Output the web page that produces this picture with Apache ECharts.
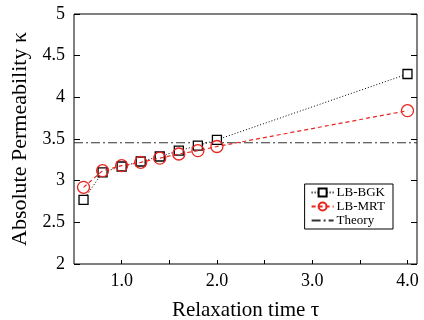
<!DOCTYPE html>
<html>
<head>
<meta charset="utf-8">
<script src="https://cdn.jsdelivr.net/npm/echarts@6/dist/echarts.min.js"></script>
<style>
  html, body { margin: 0; padding: 0; background: #fff; }
  #chart { width: 424px; height: 320px; }
</style>
</head>
<body>
<div id="chart"></div>
<script>
// relaxation time values
const tau = [0.6, 0.8, 1.0, 1.2, 1.4, 1.6, 1.8, 2.0, 4.0];
const bgk = [2.77, 3.10, 3.17, 3.23, 3.29, 3.36, 3.42, 3.49, 4.28];
const mrt = [2.92, 3.12, 3.18, 3.22, 3.27, 3.32, 3.36, 3.41, 3.84];
const theory = 3.455;
const xRange = [0.5, 4.1];
const xLabels = [1, 2, 3, 4];
const xTicks = [1, 1.5, 2, 2.5, 3, 3.5, 4];

const chart = echarts.init(document.getElementById('chart'));
const serif = 'Liberation Serif, Times New Roman, serif';

const option = {
    animation: false,
    backgroundColor: '#fff',
    textStyle: { fontFamily: serif },
    grid: {
        left: 74, right: 7, top: 14, bottom: 56,
        outerBoundsMode: 'none',
        show: true, borderColor: '#000', borderWidth: 1
    },
    legend: {
        right: 31, top: 184,
        orient: 'vertical',
        itemWidth: 22, itemHeight: 10, itemGap: 1,
        padding: [2, 8, 2, 6],
        borderColor: '#000', borderWidth: 1,
        textStyle: { fontFamily: serif, fontSize: 13, color: '#000', padding: [0, 0, 0, -2] },
        data: ['LB-BGK', 'LB-MRT', { name: 'Theory', itemStyle: { opacity: 0 } }]
    },
    xAxis: {
        type: 'value',
        min: xRange[0], max: xRange[1],
        interval: 0.5,
        name: 'Relaxation time τ',
        nameLocation: 'middle', nameGap: 36,
        nameTextStyle: { fontFamily: serif, fontSize: 21, color: '#000' },
        axisLine: { show: false },
        axisTick: {
            inside: true, length: 4, lineStyle: { color: '#000' },
            customValues: xTicks
        },
        axisLabel: {
            color: '#000', fontSize: 18, margin: 8,
            customValues: xLabels,
            formatter: v => v.toFixed(1)
        },
        splitLine: { show: false }
    },
    yAxis: [{
        type: 'value',
        min: 2, max: 5, interval: 0.5,
        name: 'Absolute Permeability κ',
        nameLocation: 'middle', nameGap: 42,
        nameTextStyle: { fontFamily: serif, fontSize: 22, color: '#000' },
        axisLine: { show: false },
        axisTick: { inside: true, length: 6, lineStyle: { color: '#000' } },
        axisLabel: { color: '#000', fontSize: 18, margin: 9 },
        splitLine: { show: false }
    }, {
        type: 'value',
        position: 'right',
        min: 2, max: 5, interval: 0.5,
        axisLine: { show: false },
        axisTick: { inside: true, length: 6, lineStyle: { color: '#000' } },
        axisLabel: { show: false },
        splitLine: { show: false }
    }],
    series: [{
        name: 'Theory',
        type: 'line',
        data: [[xRange[0], theory], [xRange[1], theory]],
        showSymbol: false,
        symbol: 'none',
        itemStyle: { color: '#333' },
        lineStyle: { color: '#333', width: 1, type: [9, 3, 2, 3] },
        z: 1
    }, {
        name: 'LB-BGK',
        type: 'line',
        data: tau.map((t, i) => [t, bgk[i]]),
        symbol: 'rect',
        symbolSize: 9,
        itemStyle: { color: '#fff', borderColor: '#000', borderWidth: 1.3 },
        lineStyle: { color: '#000', width: 1, type: [1, 2] },
        z: 3
    }, {
        name: 'LB-MRT',
        type: 'line',
        data: tau.map((t, i) => [t, mrt[i]]),
        symbol: 'circle',
        symbolSize: 12,
        itemStyle: { color: 'rgba(255,255,255,0)', borderColor: '#e8251f', borderWidth: 1.3 },
        lineStyle: { color: '#e8251f', width: 1.2, type: [4, 3] },
        z: 4
    }]
};

chart.setOption(option);
</script>
</body>
</html>
